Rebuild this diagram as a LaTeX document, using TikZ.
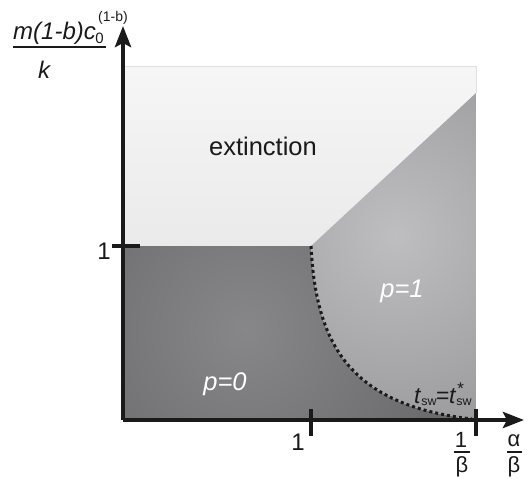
\documentclass[tikz,border=0pt]{standalone}
\usepackage{fontspec}
\setmainfont{Liberation Sans}
\usetikzlibrary{arrows.meta}
\definecolor{axisc}{HTML}{1A1A1A}
\definecolor{extA}{HTML}{F6F6F6}
\definecolor{extB}{HTML}{EAEAEA}
\definecolor{pzin}{HTML}{87878A}
\definecolor{pzout}{HTML}{68686A}
\definecolor{pcin}{HTML}{BEBEC0}
\definecolor{pcout}{HTML}{9A9A9C}
\tikzset{
  axisline/.style={line width=4.5pt, draw=axisc, -{Stealth[length=21pt,width=16pt,inset=4pt]}},
  tickline/.style={line width=4pt, draw=axisc},
  lbl/.style={inner sep=0pt, text=axisc, font=\fontsize{24}{28}\selectfont},
  plbl/.style={inner sep=0pt, text=white, font=\fontsize{25.5}{28}\selectfont\itshape},
  fraclbl/.style={inner sep=0pt, text=axisc, font=\fontsize{22}{24}\selectfont},
  fracbar/.style={line width=1.3pt, draw=axisc},
  boundary/.style={line width=3pt, draw=axisc, dash pattern=on 3pt off 3pt}
}
\newcommand{\swsub}{\raisebox{-2.5pt}{\fontsize{12.5}{13}\selectfont sw}}
\begin{document}
\begin{tikzpicture}[x=1pt,y=-1pt]
\useasboundingbox (0,0) rectangle (528,487);
% coordinates
\coordinate (O) at (123,420);
\coordinate (ytip) at (123,26);
\coordinate (xtip) at (524,420);
\coordinate (k1) at (311,246);
\coordinate (tr) at (476,93);
\coordinate (ce) at (472,419);
% extinction region
\begin{scope}
\clip (123,66) -- (476,66) -- (tr) -- (k1) -- (123,246) -- cycle;
\shade[top color=extA, bottom color=extB] (123,66) rectangle (476,246);
\end{scope}
\draw[draw=black!12, line width=0.8pt] (123,66) -- (476,66) -- (tr);
% p=0 region
\begin{scope}
\clip (123,246) -- (k1) .. controls (316,345) and (350,405) .. (ce) -- (476,421) -- (123,421) -- cycle;
\shade[inner color=pzin, outer color=pzout] (245,330) circle (230);
\end{scope}
% p=1 region
\begin{scope}
\clip (k1) -- (tr) -- (476,421) -- (ce) .. controls (350,405) and (316,345) .. (k1) -- cycle;
\shade[inner color=pcin, outer color=pcout] (395,235) circle (210);
\end{scope}
% boundary curve
\draw[boundary] (k1) .. controls (316,345) and (350,405) .. (ce);
% axes
\draw[axisline] (O) -- (ytip);
\draw[axisline] (O) -- (xtip);
% ticks
\coordinate (yt1) at (112,246);
\coordinate (yt2) at (140,246);
\draw[tickline] (yt1) -- (yt2);
\coordinate (xt1a) at (311,409);
\coordinate (xt1b) at (311,436);
\draw[tickline] (xt1a) -- (xt1b);
\coordinate (xt2a) at (476,409);
\coordinate (xt2b) at (476,436);
\draw[tickline] (xt2a) -- (xt2b);
% region labels
\node[inner sep=0pt, text=axisc, font=\fontsize{25.5}{28}\selectfont, anchor=base] (ext) at (263,155) {extinction};
\node[plbl, anchor=base] (p0) at (225,390) {p=0};
\node[plbl, anchor=base] (p1) at (402,297) {p=1};
\node[inner sep=0pt, anchor=base west, text=axisc, font=\fontsize{23}{26}\selectfont] (tsw) at (414,403)
  {\textit{t}\swsub\kern-0.5pt=\kern-0.5pt\textit{t}\rlap{\raisebox{9pt}{\fontsize{17}{17}\selectfont\kern1pt*}}\swsub};
% tick labels
\node[lbl] (y1) at (104,251) {1};
\node[lbl] (x1) at (298,442) {1};
\node[fraclbl] (ib1) at (461,440) {1};
\draw[fracbar] (454,452) -- (470,452);
\node[fraclbl] (ibb) at (462,467) {β};
\node[fraclbl] (ab1) at (514,441) {α};
\draw[fracbar] (507,452) -- (522,452);
\node[fraclbl] (abb) at (514,467) {β};
% y axis label
\node[inner sep=0pt, anchor=base west, text=axisc, font=\fontsize{24}{28}\selectfont\itshape] (num) at (13,40) {m(1-b)c};
\node[inner sep=0pt, anchor=base west, text=axisc, font=\fontsize{15}{18}\selectfont] (sub0) at ([xshift=-1pt,yshift=-4pt]num.base east) {0};
\node[inner sep=0pt, text=axisc, font=\fontsize{14}{16}\selectfont] (sup) at (113,18) {(1-b)};
\draw[fracbar] (13,47) -- (106,47);
\node[inner sep=0pt, anchor=base, text=axisc, font=\fontsize{24}{28}\selectfont\itshape] (kk) at (44,78) {k};
\end{tikzpicture}
\end{document}
